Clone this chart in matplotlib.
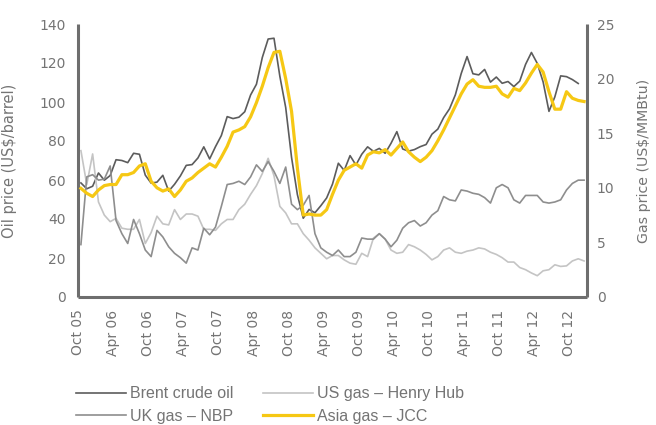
import matplotlib
matplotlib.use("Agg")
import matplotlib.pyplot as plt
from matplotlib.ticker import FixedLocator
from matplotlib.lines import Line2D
import numpy as np

# ---- data (monthly, Oct 2005 .. Dec 2012) ----
tick_labels = ["Oct 05", "Apr 06", "Oct 06", "Apr 07", "Oct 07", "Apr 08", "Oct 08",
               "Apr 09", "Oct 09", "Apr 10", "Oct 10", "Apr 11", "Oct 11", "Apr 12", "Oct 12"]

# Brent crude oil, US$/barrel (Oct 05 .. Nov 12)
brent = [58.5, 55.5, 56.8,
         63.6, 59.9, 62.3, 70.4, 70.0, 68.9, 73.7, 73.2, 62.5, 58.4, 58.9, 62.4,
         54.3, 57.8, 62.1, 67.5, 67.9, 71.3, 77.0, 70.8, 77.1, 82.8, 92.5, 91.5,
         92.2, 95.0, 103.6, 109.1, 122.8, 132.3, 132.7, 113.2, 97.2, 71.6, 52.5, 40.4,
         44.9, 43.2, 46.8, 50.8, 57.9, 68.6, 64.9, 72.5, 67.7, 73.2, 77.0, 74.7,
         76.2, 73.7, 78.8, 84.8, 75.9, 74.8, 75.6, 77.1, 78.2, 83.5, 86.1, 92.0,
         96.5, 103.7, 114.6, 123.3, 114.5, 113.9, 116.7, 110.2, 112.8, 109.6, 110.5, 107.9,
         110.7, 119.3, 125.4, 119.8, 110.3, 95.2, 102.6, 113.4, 113.0, 111.5, 109.5]

# US gas - Henry Hub, US$/MMBtu
henry_hub = [13.4, 10.3, 13.1,
             8.7, 7.5, 6.9, 7.2, 6.3, 6.2, 6.2, 7.1, 4.9, 5.9, 7.4, 6.7,
             6.6, 8.0, 7.1, 7.6, 7.6, 7.4, 6.2, 6.2, 6.1, 6.7, 7.1, 7.1,
             8.0, 8.5, 9.4, 10.2, 11.3, 12.7, 11.1, 8.3, 7.7, 6.7, 6.7, 5.8,
             5.2, 4.5, 4.0, 3.5, 3.8, 3.8, 3.4, 3.1, 3.0, 4.0, 3.7, 5.4,
             5.8, 5.3, 4.3, 4.0, 4.1, 4.8, 4.6, 4.3, 3.9, 3.4, 3.7, 4.3,
             4.5, 4.1, 4.0, 4.2, 4.3, 4.5, 4.4, 4.1, 3.9, 3.6, 3.2, 3.2,
             2.7, 2.5, 2.2, 1.95, 2.4, 2.5, 2.95, 2.8, 2.85, 3.3, 3.5, 3.3]

# UK gas - NBP, US$/MMBtu
nbp = [4.8, 11.0, 11.2, 10.7, 10.8, 12.0, 7.0, 5.8, 4.9, 7.1,
       5.8, 4.3, 3.7, 6.1, 5.5, 4.6, 4.0, 3.6, 3.1, 4.5,
       4.3, 6.3, 5.7, 6.4, 8.3, 10.3, 10.4, 10.6, 10.3, 11.0,
       12.1, 11.5, 12.4, 11.5, 10.4, 11.9, 8.5, 8.0, 8.4, 9.3,
       5.8, 4.5, 4.1, 3.8, 4.3, 3.7, 3.7, 4.1, 5.4, 5.3,
       5.3, 5.8, 5.3, 4.6, 5.2, 6.3, 6.8, 7.0, 6.5, 6.8,
       7.5, 7.9, 9.2, 8.9, 8.8, 9.8, 9.7, 9.5, 9.4, 9.1,
       8.6, 10.0, 10.3, 10.0, 8.9, 8.6, 9.3, 9.3, 9.3, 8.7,
       8.6, 8.7, 8.9, 9.8, 10.4, 10.7, 10.7]

# Asia gas - JCC, US$/MMBtu
jcc = [9.95, 9.5, 9.2, 9.8, 10.2, 10.3, 10.3, 11.2, 11.2, 11.4,
       12.0, 12.2, 10.6, 10.0, 9.7, 9.9, 9.2, 9.8, 10.6, 10.9,
       11.4, 11.8, 12.2, 11.9, 12.8, 13.8, 15.1, 15.3, 15.6, 16.5,
       17.8, 19.3, 21.0, 22.4, 22.5, 20.0, 17.0, 11.8, 7.5, 7.6,
       7.5, 7.5, 8.0, 9.4, 10.7, 11.6, 11.9, 12.2, 11.8, 13.0,
       13.3, 13.2, 13.5, 13.0, 13.6, 14.2, 13.3, 12.8, 12.4, 12.8,
       13.4, 14.3, 15.3, 16.4, 17.5, 18.6, 19.5, 19.9, 19.3, 19.2,
       19.2, 19.3, 18.6, 18.3, 19.1, 18.9, 19.6, 20.5, 21.3, 20.6,
       18.8, 17.2, 17.2, 18.8, 18.2, 18.0, 17.9]

n_months = len(jcc)
x_all = np.arange(n_months) + 0.5       # category centres
x_brent = np.arange(len(brent)) + 0.5

# ---- styling ----
c_brent = "#5c5c5c"
c_hh = "#c4c4c4"
c_nbp = "#8e8e8e"
c_jcc = "#f6c814"
c_axis = "#6e6e6e"
c_text = "#747474"

plt.rcParams["font.family"] = ["DejaVu Sans"]

W, H = 656, 425
fig = plt.figure(figsize=(W / 100, H / 100), dpi=100)
L, R, T, B = 78, 587, 24, 297
ax = fig.add_axes([L / W, 1 - B / H, (R - L) / W, (B - T) / H])
ax2 = ax.twinx()

ax.plot(x_brent, brent, color=c_brent, lw=1.2, zorder=3)
ax2.plot(x_all, henry_hub, color=c_hh, lw=1.2, zorder=2)
ax2.plot(x_all, nbp, color=c_nbp, lw=1.2, zorder=3)
ax2.plot(x_all, jcc, color=c_jcc, lw=2.3, zorder=4)

ax.set_xlim(0, n_months)
ax.set_ylim(0, 140)
ax2.set_ylim(0, 25)

ax.set_xticks(np.arange(0, 6 * len(tick_labels), 6))
ax.set_xticklabels(tick_labels, rotation=90)
ax.set_yticks(np.arange(0, 141, 20))
ax2.set_yticks(np.arange(0, 26, 5))

for s in ["top", "right"]:
    ax.spines[s].set_visible(False)
for s in ["top", "left", "bottom"]:
    ax2.spines[s].set_visible(False)
for sp in [ax.spines["left"], ax.spines["bottom"], ax2.spines["right"]]:
    sp.set_color(c_axis)
    sp.set_linewidth(2.2)
    sp.set_capstyle("butt")

ax.tick_params(axis="both", which="major", length=0, labelsize=10, labelcolor=c_text)
ax.tick_params(axis="x", which="major", pad=9)
ax.tick_params(axis="y", which="major", pad=9)
ax2.tick_params(axis="y", which="major", length=0, labelsize=10, labelcolor=c_text, pad=7)

# white gaps in the axis lines at tick positions
ax.xaxis.set_minor_locator(FixedLocator(np.arange(6, 6 * len(tick_labels), 6)))
ax.yaxis.set_minor_locator(FixedLocator(np.arange(20, 121, 20)))
ax2.yaxis.set_minor_locator(FixedLocator(np.arange(5, 21, 5)))
for a in (ax, ax2):
    a.tick_params(which="minor", length=5, width=3, color="white", direction="inout")
ax.xaxis.set_zorder(3)
ax.yaxis.set_zorder(3)
ax2.yaxis.set_zorder(3)

ax.set_ylabel(r"Oil price (US\$/barrel)", fontsize=10.5, color=c_text)
ax.yaxis.set_label_coords(-0.12, 0.5)
ax2.set_ylabel(r"Gas price (US\$/MMBtu)", fontsize=10.2, color=c_text)
ax2.yaxis.set_label_coords(1.098, 0.5)

handles = [Line2D([], [], color=c_brent, lw=1.2),
           Line2D([], [], color=c_nbp, lw=1.2),
           Line2D([], [], color=c_hh, lw=1.2),
           Line2D([], [], color=c_jcc, lw=2.3)]
labels = ["Brent crude oil", "UK gas – NBP", "US gas – Henry Hub", "Asia gas – JCC"]
fig.legend(handles, labels, ncol=2, loc="center left",
           bbox_to_anchor=(76 / W, 1 - 405 / H), frameon=False,
           borderaxespad=0, borderpad=0, handlelength=3.1, handletextpad=0.25,
           columnspacing=1.9, labelspacing=0.45, labelcolor=c_text,
           prop={"family": "Liberation Sans", "size": 11.5})

fig.savefig("out.png", dpi=100)
